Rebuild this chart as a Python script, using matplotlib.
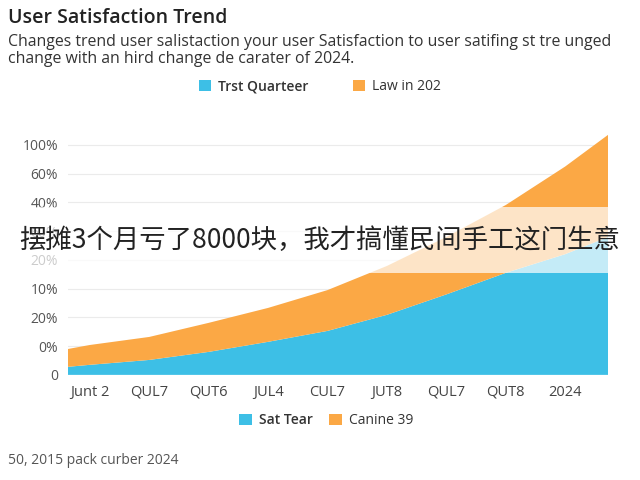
import matplotlib
matplotlib.use("Agg")
import matplotlib.pyplot as plt
from matplotlib.patches import Rectangle

plt.rcParams['font.family'] = ['Open Sans', 'Noto Sans CJK SC', 'DejaVu Sans']

# data (x in category units, edges run past the first/last tick)
x_vals = [-0.37, 0, 1, 2, 3, 4, 5, 6, 7, 8, 8.72]
sat_tear = [0.28, 0.35, 0.52, 0.80, 1.15, 1.53, 2.09, 2.80, 3.55, 4.20, 4.80]
canine = [0.62, 0.69, 0.80, 1.01, 1.18, 1.42, 1.70, 2.00, 2.36, 3.05, 3.55]

x_labels = ["Junt 2", "QUL7", "QUT6", "JUL4", "CUL7", "JUT8", "QUL7", "QUT8", "2024"]
y_labels = ["0", "0%", "20%", "10%", "20%", "60%", "40%", "60%", "100%"]

blue = "#3DBFE6"
orange = "#FBA845"

fig = plt.figure(figsize=(6.4, 4.8), dpi=100)
ax = fig.add_axes([0.106, 0.219, 0.844, 0.503])

polys = ax.stackplot(x_vals, sat_tear, canine, colors=[blue, orange], linewidth=0)
ax.set_xlim(-0.37, 8.72)
ax.set_ylim(0, 8.4)

ax.set_xticks(range(len(x_labels)))
ax.set_xticklabels(x_labels, fontsize=10.5, color="#444444")
ax.set_yticks(range(len(y_labels)))
ax.set_yticklabels(y_labels, fontsize=10, color="#555555")
ax.tick_params(length=0, pad=7)
ax.grid(axis="y", color="#ebebeb", linewidth=0.8)
ax.set_axisbelow(True)
for s in ax.spines.values():
    s.set_visible(False)

fig.text(0.013, 0.963, "User Satisfaction Trend", fontsize=14, color="#222222",
         fontweight="semibold", va="center")
fig.text(0.013, 0.912, "Changes trend user saIistaction your user Satisfaction to user satifing st tre unged",
         fontsize=11.4, color="#333333", va="center")
fig.text(0.013, 0.878, "change with an hird change de carater of 2024.",
         fontsize=11.4, color="#333333", va="center")

leg1 = fig.legend(polys, ["Trst Quarteer", "Law in 202"], loc="center",
                  bbox_to_anchor=(0.5, 0.819), ncol=2, frameon=False, fontsize=10,
                  handlelength=0.9, handleheight=0.9, handletextpad=0.5, columnspacing=3.2)
leg1.get_texts()[0].set_fontweight("semibold")
for t in leg1.get_texts():
    t.set_color("#333333")

leg2 = fig.legend(polys, ["Sat Tear", "Canine 39"], loc="center",
                  bbox_to_anchor=(0.51, 0.123), ncol=2, frameon=False, fontsize=10,
                  handlelength=0.9, handleheight=0.9, handletextpad=0.5, columnspacing=1.2)
leg2.get_texts()[0].set_fontweight("semibold")
for t in leg2.get_texts():
    t.set_color("#333333")

fig.text(0.013, 0.04, "50, 2015 pack curber 2024", fontsize=10, color="#555555", va="center")

# overlay banner
fig.patches.append(Rectangle((0, 0.431), 1, 0.138, transform=fig.transFigure,
                             facecolor="white", alpha=0.7, edgecolor="none", zorder=5))
fig.text(0.5, 0.498, "摆摊3个月亏了8000块，我才搞懂民间手工这门生意", fontsize=19,
         color="#222222", ha="center", va="center", zorder=6,
         family=['Noto Sans CJK SC', 'DejaVu Sans'])

fig.savefig("out.png", dpi=100)
